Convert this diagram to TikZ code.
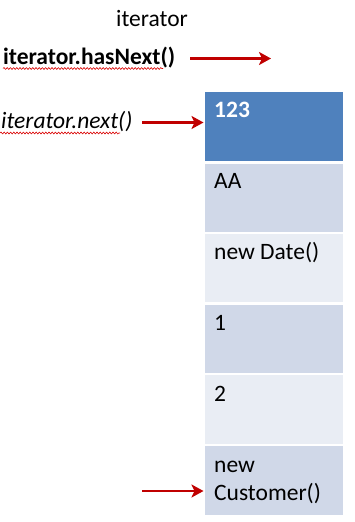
\documentclass[tikz,border=0pt]{standalone}
\usepackage{fontspec}
\setmainfont{Carlito}
\usetikzlibrary{arrows.meta,decorations.pathmorphing}
\definecolor{headblue}{HTML}{4F81BD}
\definecolor{rowdark}{HTML}{D0D8E8}
\definecolor{rowlight}{HTML}{E9EDF4}
\definecolor{arrowred}{HTML}{C00000}
\begin{document}
\begin{tikzpicture}[x=1pt,y=-1pt,
  every node/.style={font=\fontsize{23.5}{28}\selectfont, inner sep=0pt},
  cell/.style={draw=white, line width=1.5pt, anchor=north west,
    minimum width=139pt, minimum height=70pt},
  celltext/.style={anchor=base west, align=left},
  pointer/.style={draw=arrowred, line width=2.6pt,
    -{Stealth[length=12pt,width=13pt,inset=3pt]}},
  squiggle/.style={draw=red!85!black, line width=0.6pt,
    decorate, decoration={snake, amplitude=0.9pt, segment length=3.2pt}}]
\useasboundingbox (0,0) rectangle (354,522);

% list cells
\node[cell, fill=headblue] (r1) at (203.5,90.5) {};
\node[cell, fill=rowdark]  (r2) at (203.5,162) {};
\node[cell, fill=rowlight] (r3) at (203.5,232) {};
\node[cell, fill=rowdark]  (r4) at (203.5,303) {};
\node[cell, fill=rowlight] (r5) at (203.5,373.5) {};
\node[cell, fill=rowdark]  (r6) at (203.5,444.5) {};

\node[celltext, text=white, font=\fontsize{23.5}{28}\selectfont\bfseries] (t1) at (214,117) {123};
\node[celltext] (t2) at (214,188) {AA};
\node[celltext] (t3) at (214,259) {new Date()};
\node[celltext] (t4) at (214,330) {1};
\node[celltext] (t5) at (214,401) {2};
\node[celltext] (t6) at (214,472) {new};
\node[celltext] (t7) at (214,500) {Customer()};

% labels on the left
\node[anchor=base] (it) at (152,26) {iterator};
\node[anchor=base west, font=\fontsize{23.5}{28}\selectfont\bfseries] (hn) at (3,64) {iterator.hasNext()};
\node[anchor=base west, font=\fontsize{23.5}{28}\selectfont\itshape] (nx) at (1,128.5) {iterator.next()};

% spelling underlines
\coordinate (s1a) at (3,68.5);
\coordinate (s1b) at (163,68.5);
\coordinate (s2a) at (0,133);
\coordinate (s2b) at (120,133);
\draw[squiggle] (s1a) -- (s1b);
\draw[squiggle] (s2a) -- (s2b);

% pointers
\coordinate (a1s) at (190,58.5);
\coordinate (a1e) at (271,58.5);
\coordinate (a2s) at (142,122.5);
\coordinate (a2e) at (r1.west |- a2s);
\coordinate (a3s) at (142,491);
\coordinate (a3e) at (r6.west |- a3s);
\draw[pointer] (a1s) -- (a1e);
\draw[pointer] (a2s) -- (a2e);
\draw[pointer] (a3s) -- (a3e);
\end{tikzpicture}
\end{document}
